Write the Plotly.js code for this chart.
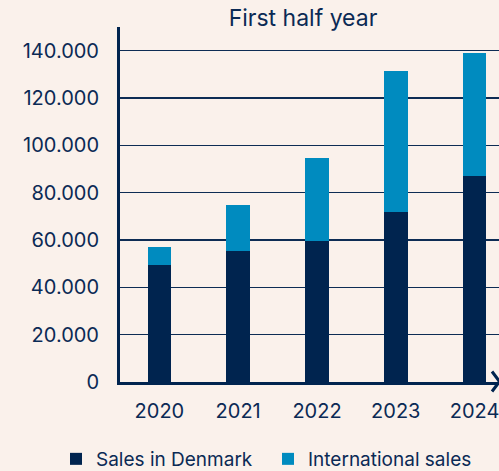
<!DOCTYPE html>
<html>
<head>
<meta charset="utf-8">
<script src="https://cdn.plot.ly/plotly-3.0.1.min.js"></script>
<style>
html,body{margin:0;padding:0;background:#faf1eb;}
#chart{width:499px;height:471px;}
</style>
</head>
<body>
<div id="chart"></div>
<script>
const years = ['2020', '2021', '2022', '2023', '2024'];
const salesDenmark = [49500, 55500, 59600, 71900, 87100];
const internationalSales = [7700, 19200, 35200, 59500, 51800];
const seriesNames = ['Sales in Denmark', 'International sales'];
const yTicks = [0, 20000, 40000, 60000, 80000, 100000, 120000, 140000];

const navy = '#00244f';
const blue = '#008bbf';
const textColor = '#0b2a55';
const fontFam = 'Inter, "Open Sans", sans-serif';

const traces = [
  {type: 'bar', x: years, y: salesDenmark, name: seriesNames[0], marker: {color: navy}, legend: 'legend'},
  {type: 'bar', x: years, y: internationalSales, name: seriesNames[1], marker: {color: blue}, legend: 'legend2'}
];

// plot area: x 120..499, y 27..382.5
const L = 120, R = 499, T = 27, B = 382.5;
const px = v => (v - L) / (R - L);
const py = v => (B - v) / (B - T);

const legendBase = {
  orientation: 'h', xref: 'container', xanchor: 'left',
  y: 1 - 459 / 471, yref: 'container', yanchor: 'middle',
  font: {size: 19, color: textColor, family: fontFam}, itemwidth: 30, bgcolor: 'rgba(0,0,0,0)'
};

const layout = {
  width: 499, height: 471,
  paper_bgcolor: '#faf1eb', plot_bgcolor: '#faf1eb',
  separators: ',.',
  barmode: 'stack', bargap: 0.7,
  margin: {l: L, r: 499 - R, t: T, b: 471 - B, pad: 0},
  font: {family: fontFam, color: textColor, size: 20},
  title: {text: 'First half year', font: {size: 23, color: textColor, family: fontFam},
          x: px(303), xref: 'paper', xanchor: 'center', y: 1 - 18 / 471, yref: 'container', yanchor: 'middle'},
  xaxis: {type: 'category', range: [-0.5, 4.31], showline: true, linecolor: navy, linewidth: 3,
          showgrid: false, zeroline: false, ticks: '', ticklabelstandoff: 9,
          tickfont: {size: 20, color: textColor, family: fontFam}},
  yaxis: {range: [0, 150000], tickvals: yTicks, tickformat: ',d', showline: true, linecolor: navy, linewidth: 3,
          showgrid: true, gridcolor: '#0d2c54', gridwidth: 1.5, zeroline: false, ticks: '',
          ticklabelstandoff: 14, tickfont: {size: 20, color: textColor, family: fontFam}},
  legend: Object.assign({}, legendBase, {x: 56 / 499}),
  legend2: Object.assign({}, legendBase, {x: 268 / 499}),
  shapes: [{type: 'path', xref: 'paper', yref: 'paper',
            path: `M ${px(492)} ${py(372)} L ${px(499.5)} ${py(382)} L ${px(492)} ${py(392)}`,
            line: {color: navy, width: 3}}],
  showlegend: true
};

Plotly.newPlot('chart', traces, layout, {displayModeBar: false, staticPlot: true});
</script>
</body>
</html>
